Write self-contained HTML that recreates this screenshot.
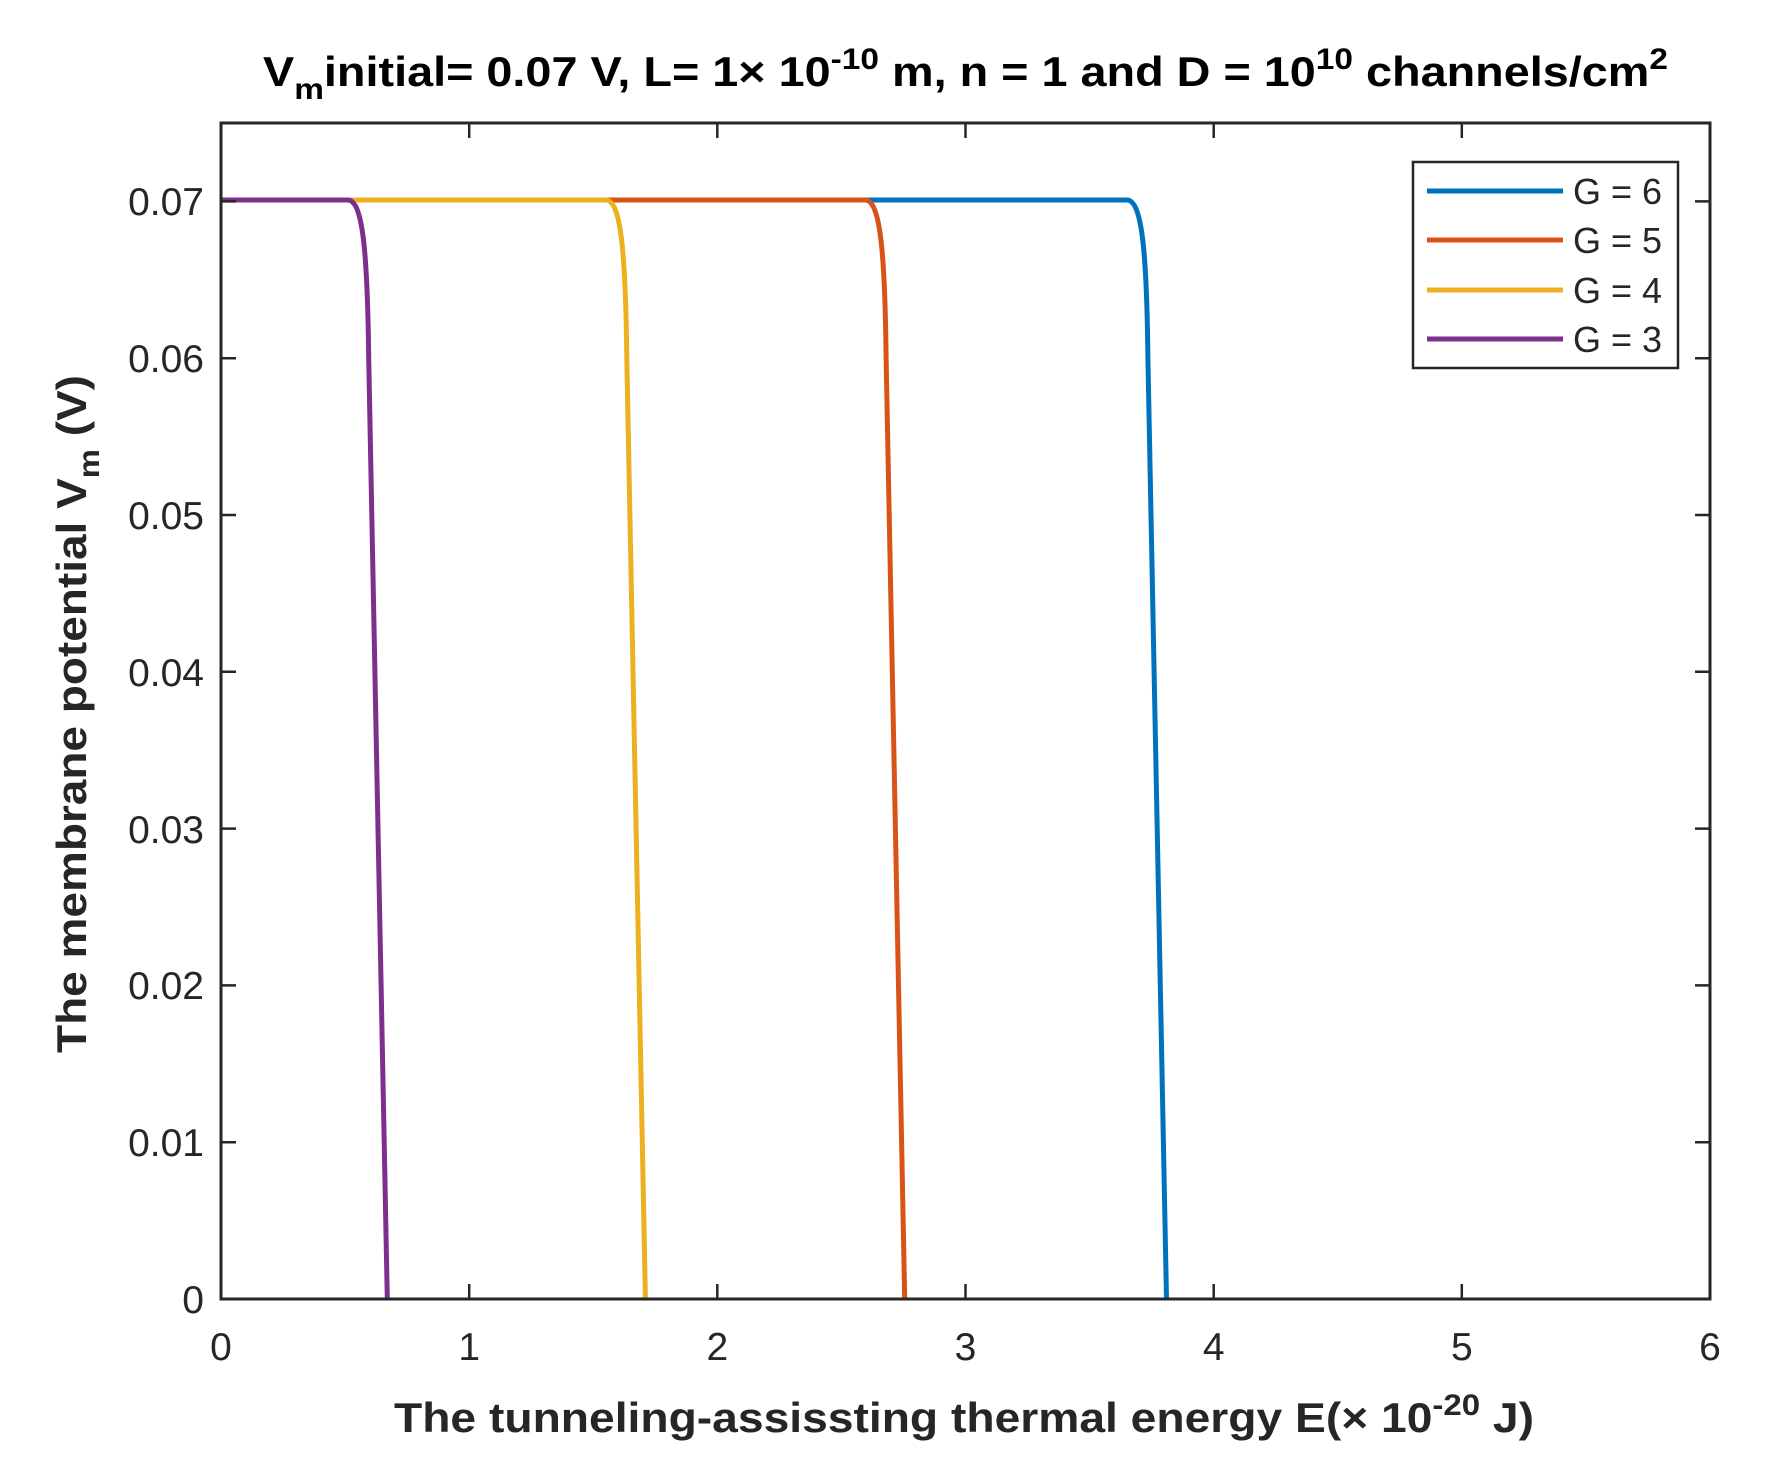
<!DOCTYPE html>
<html><head><meta charset="utf-8"><style>html,body{margin:0;padding:0;background:#fff}</style></head><body>
<svg width="1770" height="1472" viewBox="0 0 1770 1472" xmlns="http://www.w3.org/2000/svg" font-family="Liberation Sans, sans-serif">
<rect width="1770" height="1472" fill="#fff"/>
<g fill="none" stroke-width="5" stroke-linejoin="round">
<path stroke="#0072BD" d="M221,200 L1126.8,200 C1141.7,200 1146.7,248.4 1147.9,358.2 L1166.5,1299"/>
<path stroke="#D95319" d="M221,200 L865,200 C879.9,200 884.9,248.4 886.1,358.2 L904.7,1299"/>
<path stroke="#EDB120" d="M221,200 L605.7,200 C620.6,200 625.5,248.4 626.8,358.2 L645.4,1299"/>
<path stroke="#7E2F8E" d="M221,200 L347.6,200 C362.5,200 367.4,248.4 368.7,358.2 L387.3,1299"/>
</g>
<g stroke="#262626" stroke-width="2.5">
<rect x="221" y="123" width="1489" height="1176" fill="none" stroke-width="3"/>
<path d="M469.2,1299v-15M717.3,1299v-15M965.5,1299v-15M1213.7,1299v-15M1461.8,1299v-15M469.2,123v15M717.3,123v15M965.5,123v15M1213.7,123v15M1461.8,123v15"/>
<path d="M221,1142.2h15M221,985.4h15M221,828.6h15M221,671.8h15M221,515h15M221,358.2h15M221,201.4h15M1710,1142.2h-15M1710,985.4h-15M1710,828.6h-15M1710,671.8h-15M1710,515h-15M1710,358.2h-15M1710,201.4h-15"/>
</g>
<g font-size="39" fill="#262626" text-anchor="end">
<text x="204" y="1313">0</text><text x="204" y="1156">0.01</text><text x="204" y="999">0.02</text><text x="204" y="843">0.03</text><text x="204" y="686">0.04</text><text x="204" y="529">0.05</text><text x="204" y="372">0.06</text><text x="204" y="215">0.07</text>
</g>
<g font-size="39" fill="#262626" text-anchor="middle">
<text x="221" y="1360">0</text><text x="469.2" y="1360">1</text><text x="717.3" y="1360">2</text><text x="965.5" y="1360">3</text><text x="1213.7" y="1360">4</text><text x="1461.8" y="1360">5</text><text x="1710" y="1360">6</text>
</g>
<text x="394" y="1432" font-size="42" font-weight="bold" fill="#262626" textLength="1140" lengthAdjust="spacingAndGlyphs">The tunneling-assissting thermal energy E(× 10<tspan font-size="30" dy="-17">-20</tspan><tspan dy="17"> J)</tspan></text>
<text transform="translate(86,1053) rotate(-90)" font-size="42" font-weight="bold" fill="#262626" textLength="678" lengthAdjust="spacingAndGlyphs">The membrane potential V<tspan font-size="30" dy="13">m</tspan><tspan dy="-13"> (V)</tspan></text>
<text x="263" y="86" font-size="42" font-weight="bold" fill="#000" textLength="1405" lengthAdjust="spacingAndGlyphs">V<tspan font-size="30" dy="13">m</tspan><tspan dy="-13">initial= 0.07 V, L= 1× 10</tspan><tspan font-size="30" dy="-17">-10</tspan><tspan dy="17"> m, n = 1 and D = 10</tspan><tspan font-size="30" dy="-17">10</tspan><tspan dy="17"> channels/cm</tspan><tspan font-size="30" dy="-17">2</tspan></text>
<rect x="1413" y="162" width="265" height="206" fill="#fff" stroke="#262626" stroke-width="2.5"/>
<g stroke-width="5">
<line x1="1427" y1="191" x2="1563" y2="191" stroke="#0072BD"/>
<line x1="1427" y1="240" x2="1563" y2="240" stroke="#D95319"/>
<line x1="1427" y1="290" x2="1563" y2="290" stroke="#EDB120"/>
<line x1="1427" y1="339" x2="1563" y2="339" stroke="#7E2F8E"/>
</g>
<g font-size="36" fill="#262626">
<text x="1573" y="204">G = 6</text><text x="1573" y="253">G = 5</text><text x="1573" y="303">G = 4</text><text x="1573" y="352">G = 3</text>
</g>
</svg>
</body></html>
